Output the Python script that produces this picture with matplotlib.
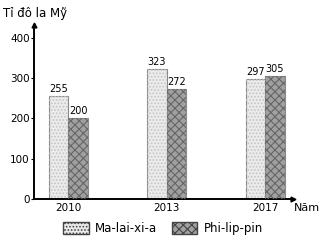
import numpy as np
import matplotlib
matplotlib.use("Agg")
import matplotlib.pyplot as plt
from matplotlib.patches import Patch

years = ["2010", "2013", "2017"]
malaysia = [255, 323, 297]
philippines = [200, 272, 305]

plt.rcParams['font.family'] = ['DejaVu Sans']
plt.rcParams['hatch.linewidth'] = 0.8

fig = plt.figure(figsize=(3.26, 2.43), dpi=100)
ax = fig.add_axes([0.104, 0.181, 0.794, 0.716])

x = np.arange(len(years))
w = 0.2

def hatched_bars(pos, vals, face, hatch, hcol):
    ax.bar(pos, vals, w, color=face, edgecolor='#8a8a8a', linewidth=0.8, zorder=2)
    ax.bar(pos, vals, w, color='none', edgecolor=hcol, hatch=hatch, linewidth=0, zorder=3)

hatched_bars(x - w / 2, malaysia, '#ebebeb', '.....', '#c4c4c4')
hatched_bars(x + w / 2, philippines, '#a0a0a0', 'xxxx', '#666666')

for xi, v in zip(x - w / 2, malaysia):
    ax.text(xi, v + 5, str(v), ha='center', va='bottom', fontsize=7)
for xi, v in zip(x + w / 2, philippines):
    ax.text(xi, v + 5, str(v), ha='center', va='bottom', fontsize=7)

ax.set_xlim(-0.35, 2.28)
ax.set_ylim(0, 432)
ax.set_yticks([0, 100, 200, 300, 400])
ax.set_xticks(x)
ax.set_xticklabels(years)
ax.tick_params(axis='y', labelsize=7.5, length=2, width=0.8, pad=1)
ax.tick_params(axis='x', labelsize=7.5, length=0, pad=3)
for s in ['top', 'right']:
    ax.spines[s].set_visible(False)
for s in ['left', 'bottom']:
    ax.spines[s].set_linewidth(1.4)
ax.plot([0], [1], marker='^', color='black', markersize=3.5, transform=ax.transAxes, clip_on=False)
ax.plot([1], [0], marker='>', color='black', markersize=3.5, transform=ax.transAxes, clip_on=False)

fig.text(0.01, 0.945, "Tỉ đô la Mỹ", fontsize=8.5, ha='left', va='center')
fig.text(0.9, 0.145, "Năm", fontsize=8, ha='left', va='center')

handles = [
    Patch(facecolor='#ebebeb', edgecolor='#444444', hatch='.....', label='Ma-lai-xi-a'),
    Patch(facecolor='#a0a0a0', edgecolor='#444444', hatch='xxxx', label='Phi-lip-pin'),
]
fig.legend(handles=handles, loc='center', bbox_to_anchor=(0.5, 0.06), ncol=2,
           frameon=False, fontsize=8.5, handlelength=2.2, handleheight=1.1,
           columnspacing=1.2, handletextpad=0.5)

fig.savefig("out.png", dpi=100)
